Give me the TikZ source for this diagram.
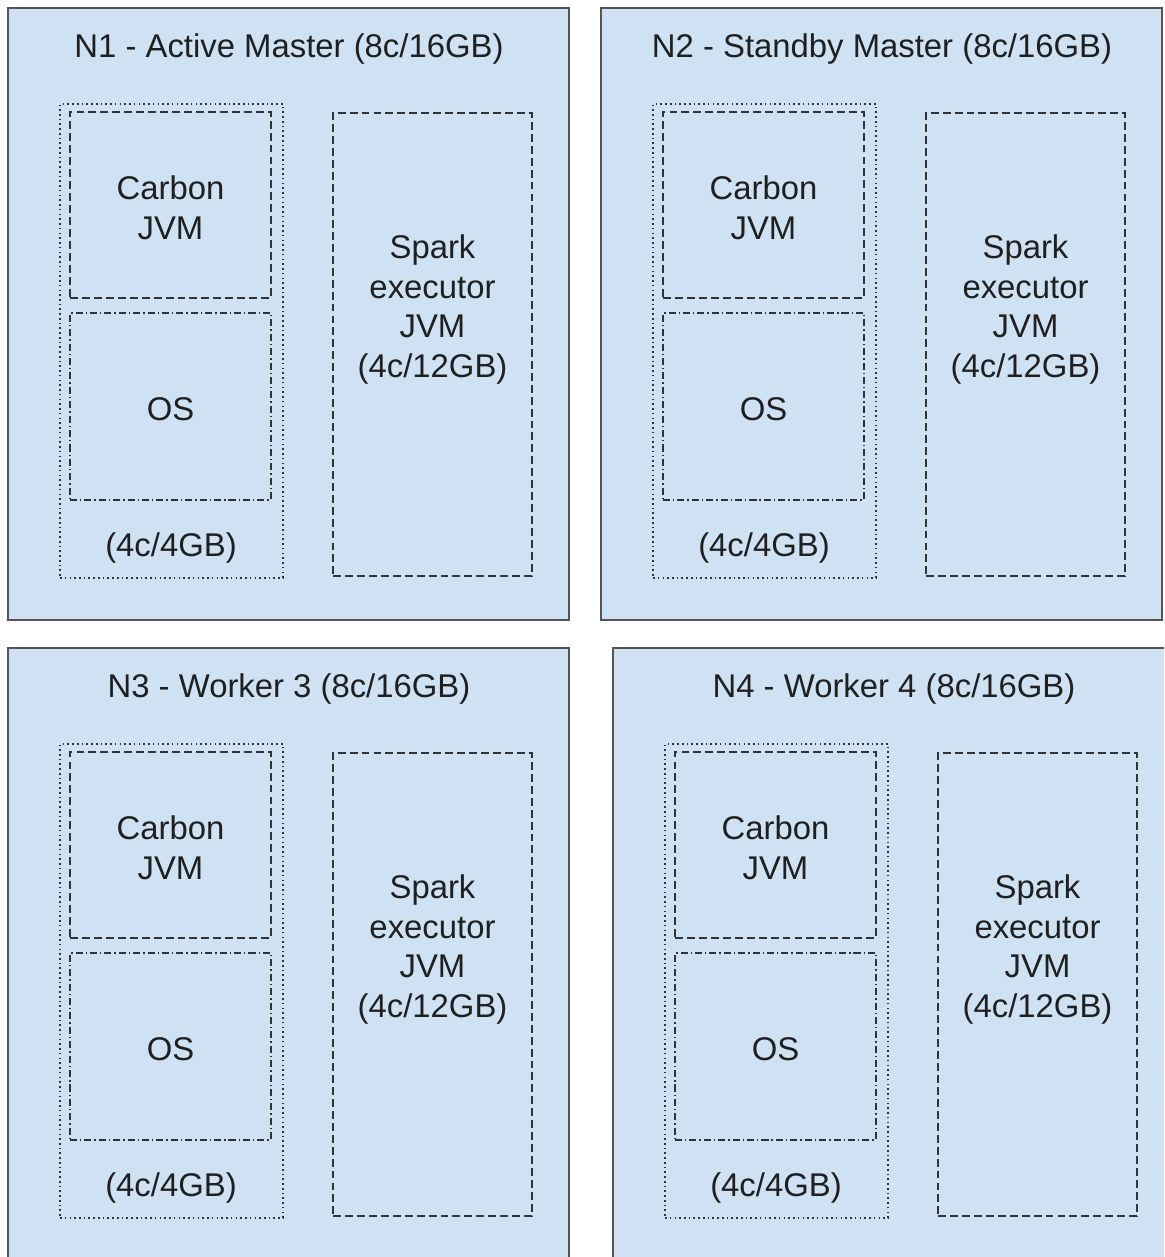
\documentclass[tikz,border=0pt]{standalone}
\usepackage{fontspec}
\setmainfont{Liberation Sans}
\definecolor{nodefill}{HTML}{CFE2F3}
\definecolor{nodeline}{HTML}{555555}
\definecolor{boxline}{HTML}{333333}
\definecolor{labeltext}{HTML}{1F1F1F}

\begin{document}
\begin{tikzpicture}[
  x=0.02cm, y=-0.02cm,
  every node/.style={
    font={\fontsize{18.7}{22.7}\selectfont}, text=labeltext, align=center
  },
  panel/.style={
    draw=nodeline, fill=nodefill, line width=1.4pt, inner sep=0pt,
    minimum width=11.22cm, minimum height=12.24cm
  },
  resbox/.style={
    draw=boxline, line width=0.9pt, dash pattern=on 0.9pt off 1.8pt,
    inner sep=0pt, minimum width=4.46cm, minimum height=9.48cm
  },
  carbonbox/.style={
    draw=boxline, line width=1.2pt, dash pattern=on 4.5pt off 2.3pt,
    inner sep=0pt, minimum width=4.02cm, minimum height=3.72cm
  },
  osbox/.style={
    draw=boxline, line width=1.2pt,
    dash pattern=on 4pt off 1.7pt on 0.8pt off 1.7pt,
    inner sep=0pt, minimum width=4.02cm, minimum height=3.74cm
  },
  sparkbox/.style={
    draw=boxline, line width=1.2pt, dash pattern=on 4.5pt off 2.3pt,
    inner sep=0pt, minimum width=3.98cm, minimum height=9.26cm
  }
]

\useasboundingbox (0,0) rectangle (1164,1257);
\clip (0,0) rectangle (1164,1257);

% N1 - active master
\begin{scope}
\node[panel] (n1) at (288.5,314) {};
\node (n1title) at (289,49) {N1 - Active Master (8c/16GB)};
\node[resbox] (n1res) at (171.5,341) {};
\node[carbonbox] (n1carbon) at (170.5,205) {};
\node (n1carbontext) at (170.5,208) {Carbon\\JVM};
\node[osbox] (n1os) at (170.5,406.5) {};
\node (n1ostext) at (170.5,409) {OS};
\node (n1size) at (171,548) {(4c/4GB)};
\node[sparkbox] (n1spark) at (432.5,344.5) {};
\node (n1sparktext) at (432.5,309.5) {Spark\\executor\\JVM\\(4c/12GB)};
\end{scope}

% N2 - standby master
\begin{scope}[shift={(593,0)}]
\node[panel] (n2) at (288.5,314) {};
\node (n2title) at (289,49) {N2 - Standby Master (8c/16GB)};
\node[resbox] (n2res) at (171.5,341) {};
\node[carbonbox] (n2carbon) at (170.5,205) {};
\node (n2carbontext) at (170.5,208) {Carbon\\JVM};
\node[osbox] (n2os) at (170.5,406.5) {};
\node (n2ostext) at (170.5,409) {OS};
\node (n2size) at (171,548) {(4c/4GB)};
\node[sparkbox] (n2spark) at (432.5,344.5) {};
\node (n2sparktext) at (432.5,309.5) {Spark\\executor\\JVM\\(4c/12GB)};
\end{scope}

% N3 - worker
\begin{scope}[shift={(0,640)}]
\node[panel] (n3) at (288.5,314) {};
\node (n3title) at (289,49) {N3 - Worker 3 (8c/16GB)};
\node[resbox] (n3res) at (171.5,341) {};
\node[carbonbox] (n3carbon) at (170.5,205) {};
\node (n3carbontext) at (170.5,208) {Carbon\\JVM};
\node[osbox] (n3os) at (170.5,406.5) {};
\node (n3ostext) at (170.5,409) {OS};
\node (n3size) at (171,548) {(4c/4GB)};
\node[sparkbox] (n3spark) at (432.5,344.5) {};
\node (n3sparktext) at (432.5,309.5) {Spark\\executor\\JVM\\(4c/12GB)};
\end{scope}

% N4 - worker
\begin{scope}[shift={(605,640)}]
\node[panel] (n4) at (288.5,314) {};
\node (n4title) at (289,49) {N4 - Worker 4 (8c/16GB)};
\node[resbox] (n4res) at (171.5,341) {};
\node[carbonbox] (n4carbon) at (170.5,205) {};
\node (n4carbontext) at (170.5,208) {Carbon\\JVM};
\node[osbox] (n4os) at (170.5,406.5) {};
\node (n4ostext) at (170.5,409) {OS};
\node (n4size) at (171,548) {(4c/4GB)};
\node[sparkbox] (n4spark) at (432.5,344.5) {};
\node (n4sparktext) at (432.5,309.5) {Spark\\executor\\JVM\\(4c/12GB)};
\end{scope}

\end{tikzpicture}
\end{document}
